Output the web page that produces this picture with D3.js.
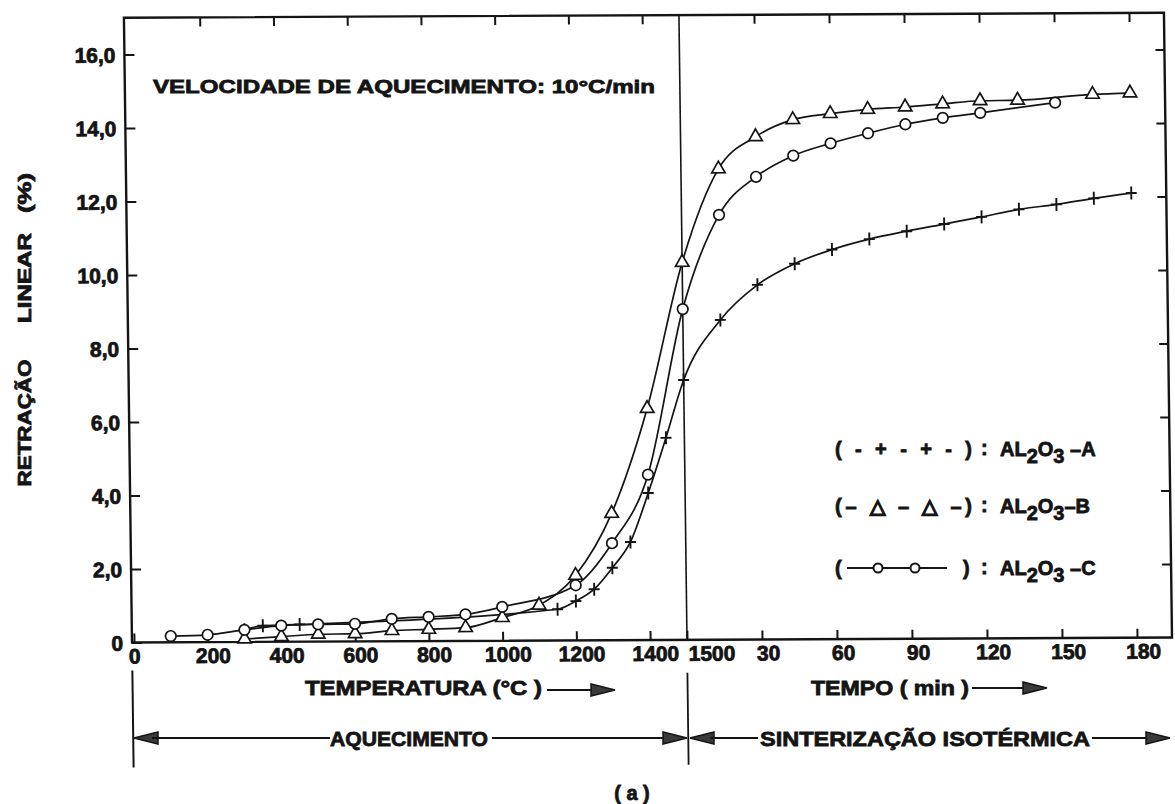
<!DOCTYPE html>
<html>
<head>
<meta charset="utf-8">
<script src="https://cdn.jsdelivr.net/npm/d3@7"></script>
<style>
  body { margin: 0; background: #fff; }
  svg { display: block; }
  text { font-family: "Liberation Sans", Arial, sans-serif; font-weight: bold; fill: #141414; stroke: #141414; stroke-width: 0.8; }
</style>
</head>
<body>
<div id="rootDiv"></div>
<script>
// axis ticks
const heatTicks = [0, 200, 400, 600, 800, 1000, 1200, 1400, 1500]
const timeTicks = [30, 60, 90, 120, 150, 180]
const yTicks = [0, 2, 4, 6, 8, 10, 12, 14, 16]

// AL2O3-A (+)
const tempA = [300, 350, 450, 1150, 1200, 1250, 1300, 1350, 1400, 1450, 1500]
const heatA = [0.33, 0.44, 0.47, 0.85, 1.07, 1.39, 1.97, 2.67, 4.0, 5.5, 7.07]
const timeA = [15, 30, 45, 60, 75, 90, 105, 120, 135, 150, 165, 180]
const isoA = [8.7, 9.65, 10.22, 10.6, 10.88, 11.09, 11.28, 11.47, 11.67, 11.8, 11.96, 12.1]

// AL2O3-B (triangle)
const tempB = [300, 400, 500, 600, 700, 800, 900, 1000, 1100, 1200, 1300, 1400, 1500]
const heatB = [0.08, 0.14, 0.2, 0.21, 0.29, 0.32, 0.36, 0.63, 0.96, 1.77, 3.45, 6.3, 10.27]
const timeB = [15, 30, 45, 60, 75, 90, 105, 120, 135, 165, 180]
const isoB = [12.81, 13.68, 14.14, 14.3, 14.41, 14.47, 14.55, 14.63, 14.64, 14.79, 14.82]

// AL2O3-C (circle)
const tempC = [100, 200, 300, 400, 500, 600, 700, 800, 900, 1000, 1200, 1300, 1400, 1500]
const heatC = [0.17, 0.2, 0.33, 0.44, 0.47, 0.48, 0.61, 0.66, 0.72, 0.92, 1.5, 2.64, 4.5, 9.0]
const timeC = [15, 30, 45, 60, 75, 90, 105, 120, 150]
const isoC = [11.56, 12.59, 13.16, 13.49, 13.76, 14.0, 14.17, 14.3, 14.57]

const width = 1175
const height = 804

const xTemp = d3.scaleLinear().domain([0, 1500]).range([130, 683])
const xTime = d3.scaleLinear().domain([0, 194]).range([683, 1168])
const y = d3.scaleLinear().domain([0, 17]).range([640, 15.25])

const frameL = 128
const frameR = xTime(194)
const frameT = y(17)
const frameB = y(0)
const ink = "#141414"

const svg = d3.select(document.getElementById("rootDiv"))
    .append("svg")
    .attr("width", width)
    .attr("height", height)

// the scanned figure is slightly sheared
const plot = svg.append("g")
    .attr("transform", "matrix(1,-0.0048,0.0129,1,-4.26,3.12)")

// axes (ticks inside the frame)
const fmtY = d => d === 0 ? "0" : d3.format(".1f")(d).replace(".", ",")
const axes = [
    plot.append("g").attr("transform", `translate(0,${frameB})`)
        .call(d3.axisBottom(xTemp).tickValues(heatTicks).tickSize(-9).tickPadding(6).tickFormat(d3.format("d"))),
    plot.append("g").attr("transform", `translate(0,${frameB})`)
        .call(d3.axisBottom(xTime).tickValues(timeTicks).tickSize(-9).tickPadding(6)),
    plot.append("g").attr("transform", `translate(0,${frameT})`)
        .call(d3.axisTop(xTemp).tickValues(heatTicks.slice(1, -1)).tickSize(-9).tickFormat("")),
    plot.append("g").attr("transform", `translate(0,${frameT})`)
        .call(d3.axisTop(xTime).tickValues(timeTicks).tickSize(-9).tickFormat("")),
    plot.append("g").attr("transform", `translate(${frameL},0)`)
        .call(d3.axisLeft(y).tickValues(yTicks).tickSize(-10).tickPadding(9).tickFormat(fmtY)),
    plot.append("g").attr("transform", `translate(${frameR},0)`)
        .call(d3.axisRight(y).tickValues(yTicks.slice(1)).tickSize(-9).tickFormat(""))
]
for (const axis of axes) {
    axis.select(".domain").remove()
    axis.selectAll("line").style("stroke", ink).style("stroke-width", 2)
    axis.selectAll("text").style("fill", ink).style("font-size", "21px")
}
axes[0].selectAll("text").filter(d => d === 1500).attr("text-anchor", "start").attr("x", 1)
axes[0].selectAll("text").filter(d => d > 0 && d < 1500).attr("dx", 5)
axes[1].selectAll("text").attr("dx", 6)
axes[4].selectAll("text").attr("dy", "0.36em")

// frame + divider
plot.append("rect")
    .attr("x", frameL).attr("y", frameT)
    .attr("width", frameR - frameL).attr("height", frameB - frameT)
    .attr("fill", "none").attr("stroke", ink).attr("stroke-width", 2.4)
plot.append("line")
    .attr("x1", xTemp(1500)).attr("x2", xTemp(1500))
    .attr("y1", frameT).attr("y2", frameB)
    .attr("stroke", ink).attr("stroke-width", 1.6)
// phase separators below the axis
plot.append("line").attr("x1", frameL).attr("x2", frameL).attr("y1", 668).attr("y2", 765)
    .attr("stroke", ink).attr("stroke-width", 2)
plot.append("line").attr("x1", xTemp(1500)).attr("x2", xTemp(1500)).attr("y1", 673).attr("y2", 765)
    .attr("stroke", ink).attr("stroke-width", 1.8)

// curves
const pts = (temps, heat, times, iso) =>
    temps.map((t, i) => [xTemp(t), y(heat[i])])
        .concat(times.map((t, i) => [xTime(t), y(iso[i])]))

const seriesA = pts(tempA, heatA, timeA, isoA)
const seriesB = pts(tempB, heatB, timeB, isoB)
const seriesC = pts(tempC, heatC, timeC, isoC)

const line = d3.line().curve(d3.curveMonotoneX)
for (const s of [seriesA, seriesB, seriesC]) {
    plot.append("path")
        .attr("d", line(s))
        .attr("fill", "none")
        .attr("stroke", ink)
        .attr("stroke-width", 1.7)
}

// markers
plot.selectAll("path.cross").data(seriesA).enter().append("path")
    .attr("class", "cross")
    .attr("transform", d => `translate(${d[0]},${d[1]})`)
    .attr("d", "M-5.5,0H5.5M0,-6.5V6.5")
    .attr("stroke", ink).attr("stroke-width", 1.9)
plot.selectAll("path.tri").data(seriesB).enter().append("path")
    .attr("class", "tri")
    .attr("transform", d => `translate(${d[0]},${d[1]})`)
    .attr("d", d3.symbol(d3.symbolTriangle, 78)())
    .attr("fill", "#fff").attr("stroke", ink).attr("stroke-width", 1.7)
plot.selectAll("circle.circ").data(seriesC).enter().append("circle")
    .attr("class", "circ")
    .attr("cx", d => d[0]).attr("cy", d => d[1]).attr("r", 5.3)
    .attr("fill", "#fff").attr("stroke", ink).attr("stroke-width", 1.7)

// heating rate note
svg.append("text")
    .attr("x", 153).attr("y", 93)
    .attr("font-size", 19)
    .attr("textLength", 502).attr("lengthAdjust", "spacingAndGlyphs")
    .text("VELOCIDADE DE AQUECIMENTO: 10°C/min")

// y title
const yTitle = [["(%)", 193, 40], ["LINEAR", 278, 90], ["RETRAÇÃO", 423, 127]]
for (const [t, cy, len] of yTitle) {
    svg.append("text")
        .attr("transform", `translate(31,${cy}) rotate(-90)`)
        .attr("text-anchor", "middle")
        .attr("font-size", 19)
        .attr("textLength", len).attr("lengthAdjust", "spacingAndGlyphs")
        .text(t)
}

// legend
const legendRows = [
    { key: "( - + - + - )", name: "A", y: 456 },
    { key: "(– △ – △ –)", name: "B", y: 513 },
    { key: "(", name: "C", y: 575 }
]
for (const r of legendRows) {
    if (r.name === "C") {
        svg.append("text").attr("x", 835).attr("y", r.y).attr("font-size", 20).text("(")
        svg.append("text").attr("x", 963).attr("y", r.y).attr("font-size", 20).text(")")
        svg.append("line").attr("x1", 847).attr("x2", 947).attr("y1", r.y - 7).attr("y2", r.y - 7)
            .attr("stroke", ink).attr("stroke-width", 2)
        for (const cx of [878, 915]) {
            svg.append("circle").attr("cx", cx).attr("cy", r.y - 7).attr("r", 4.5)
                .attr("fill", "#fff").attr("stroke", ink).attr("stroke-width", 2)
        }
    } else {
        svg.append("text").attr("x", 835).attr("y", r.y).attr("font-size", 20)
            .attr("textLength", 137).attr("lengthAdjust", "spacing")
            .text(r.key)
    }
    svg.append("text").attr("x", 981).attr("y", r.y - 1).attr("font-size", 20).text(":")
    const t = svg.append("text").attr("x", 1000).attr("y", r.y).attr("font-size", 20)
    t.append("tspan").text("AL")
    t.append("tspan").attr("dy", 7).text("2")
    t.append("tspan").attr("dy", -7).text("O")
    t.append("tspan").attr("dy", 7).text("3")
    t.append("tspan").attr("dy", -7).text(r.name === "B" ? "–B" : " –" + r.name)
}

// bottom annotations
const arrowHead = (tipX, yy, dir) => {
    const b = tipX - dir * 24
    svg.append("path")
        .attr("d", `M${tipX},${yy}L${b},${yy - 6}L${b},${yy + 6}Z`)
        .attr("fill", "#3a3a3a").attr("stroke", ink).attr("stroke-width", 1.5)
}
const hline = (x1, x2, yy) => svg.append("line")
    .attr("x1", x1).attr("x2", x2).attr("y1", yy).attr("y2", yy)
    .attr("stroke", ink).attr("stroke-width", 1.8)

svg.append("text").attr("x", 305).attr("y", 695).attr("font-size", 21)
    .attr("textLength", 237).attr("lengthAdjust", "spacingAndGlyphs")
    .text("TEMPERATURA (°C )")
hline(547, 595, 690)
arrowHead(615, 690, 1)

svg.append("text").attr("x", 811).attr("y", 695).attr("font-size", 20)
    .attr("textLength", 158).attr("lengthAdjust", "spacingAndGlyphs")
    .text("TEMPO ( min )")
hline(972, 1027, 688)
arrowHead(1047, 688, 1)

const rowY = 738
const divX = 688
arrowHead(134, rowY, -1)
hline(152, 330, rowY)
svg.append("text").attr("x", 330).attr("y", rowY + 8).attr("font-size", 21)
    .attr("textLength", 158).attr("lengthAdjust", "spacingAndGlyphs")
    .text("AQUECIMENTO")
hline(492, divX - 20, rowY)
arrowHead(divX - 1, rowY, 1)
arrowHead(divX + 2, rowY, -1)
hline(divX + 22, 758, rowY)
svg.append("text").attr("x", 760).attr("y", rowY + 8).attr("font-size", 21)
    .attr("textLength", 330).attr("lengthAdjust", "spacingAndGlyphs")
    .text("SINTERIZAÇÃO ISOTÉRMICA")
hline(1092, 1150, rowY)
arrowHead(1170, rowY, 1)

svg.append("text").attr("x", 632).attr("y", 800).attr("text-anchor", "middle")
    .attr("font-size", 20).text("( a )")
</script>
</body>
</html>
